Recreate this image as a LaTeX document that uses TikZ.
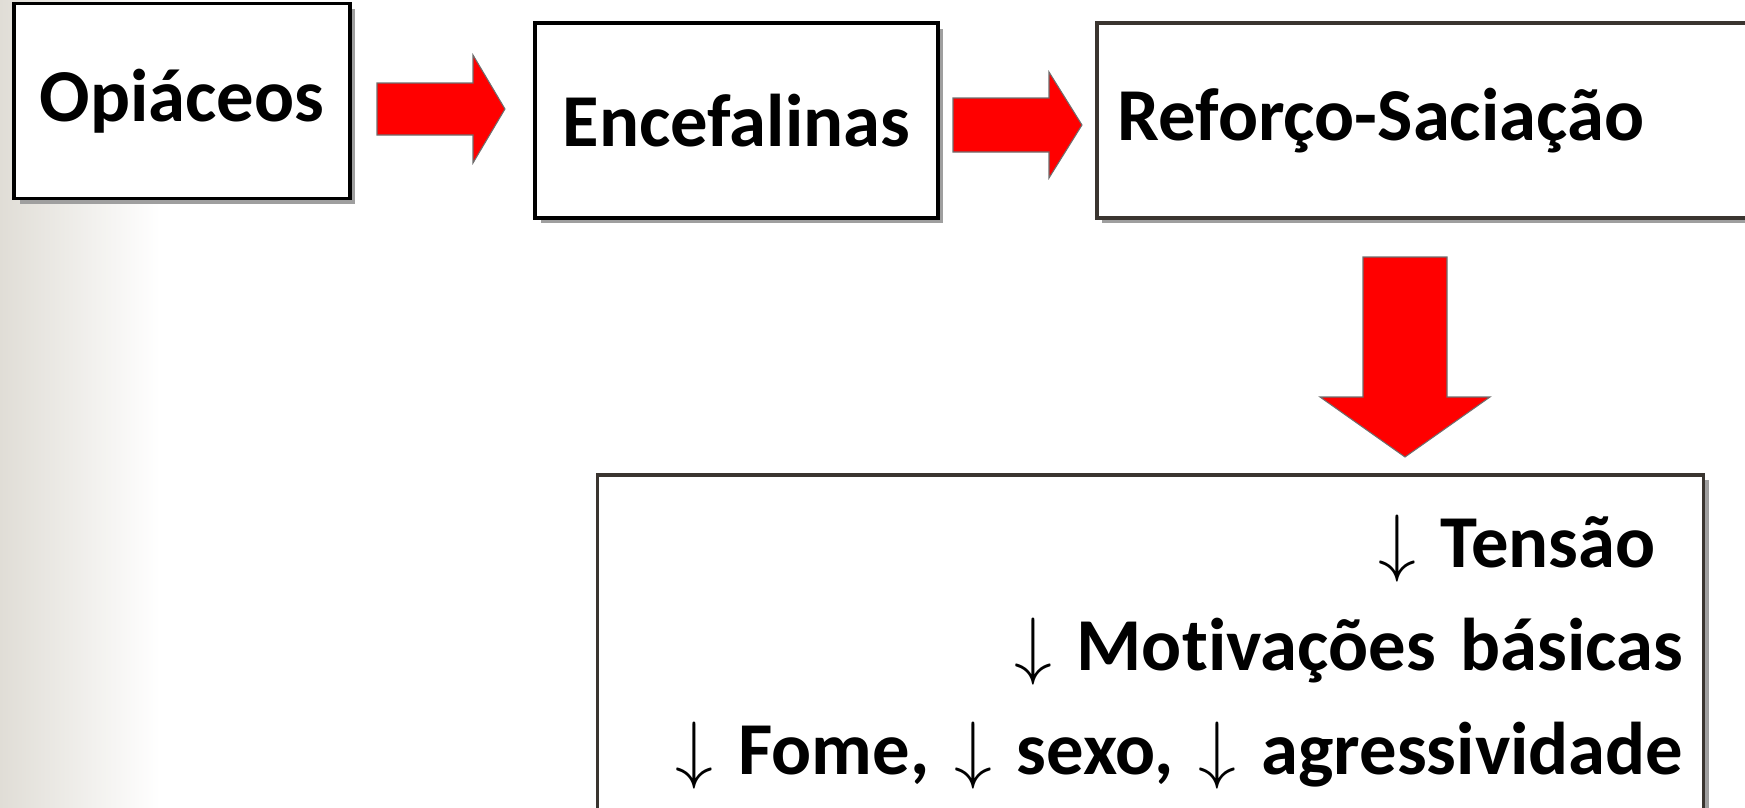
\documentclass[tikz,border=0pt]{standalone}
\usepackage{graphicx}
\usepackage{fontspec}
\setmainfont[Ligatures=NoCommon]{Carlito}
\usepackage{tikz}
\usetikzlibrary{shadows}
\definecolor{panelgray}{RGB}{224,221,214}
\definecolor{framegray}{RGB}{58,53,48}
\definecolor{arrowedge}{RGB}{110,110,110}
\newcommand{\dnarrow}{\scalebox{4.3}{\normalsize$\downarrow$}}

\begin{document}
\begin{tikzpicture}[
    x=0.02cm, y=-0.02cm, % one unit is one pixel of the slide
    box/.style = {draw=black, fill=white, line width=0.07cm, inner sep=0pt,
        font=\fontsize{42.5}{59}\selectfont\bfseries,
        drop shadow={shadow xshift=0.11cm, shadow yshift=-0.11cm, fill=gray!75, opacity=1}},
    darkbox/.style = {box, draw=framegray},
    blockarrow/.style = {draw=arrowedge, fill=red, line width=0.6pt, line join=miter}
    ]
    \tikzstyle{down_label} = [anchor=north east, align=right, inner xsep=0.4cm, inner ysep=0.8cm]
    \useasboundingbox (0,0) rectangle (1745,808);
    \shade[left color=panelgray, right color=white] (0,0) rectangle (160,808);

    \node[box, minimum width=6.72cm, minimum height=3.9cm] (opiaceos) at (182,101) {Opiáceos};
    \node[box, minimum width=8.06cm, minimum height=3.9cm] (encefalinas) at (736.5,120.5) {Encefalinas};
    \node[darkbox, anchor=west, minimum height=3.9cm, inner xsep=0.42cm, text width=12.4cm, align=left]
        (reforco) at (1095,120.5) {Reforço-Saciação};
    \node[darkbox, down_label, text width=21.32cm] (efeitos) at (1705,473)
        {\dnarrow{} Tensão\hspace*{0.55cm}\mbox{}\\
         \dnarrow{} Motivações básicas\\
         \dnarrow{} Fome, \dnarrow{} sexo, \dnarrow{} agressividade};

    \draw[blockarrow] (377,83) -- (473,83) -- (473,55) -- (505,109) -- (473,163) -- (473,135) -- (377,135) -- cycle;
    \draw[blockarrow] (953,98) -- (1049,98) -- (1049,72) -- (1082,125) -- (1049,178) -- (1049,152) -- (953,152) -- cycle;
    \draw[blockarrow] (1363,257) -- (1447,257) -- (1447,397) -- (1490,397) -- (1405,457) -- (1320,397) -- (1363,397) -- cycle;
\end{tikzpicture}
\end{document}
